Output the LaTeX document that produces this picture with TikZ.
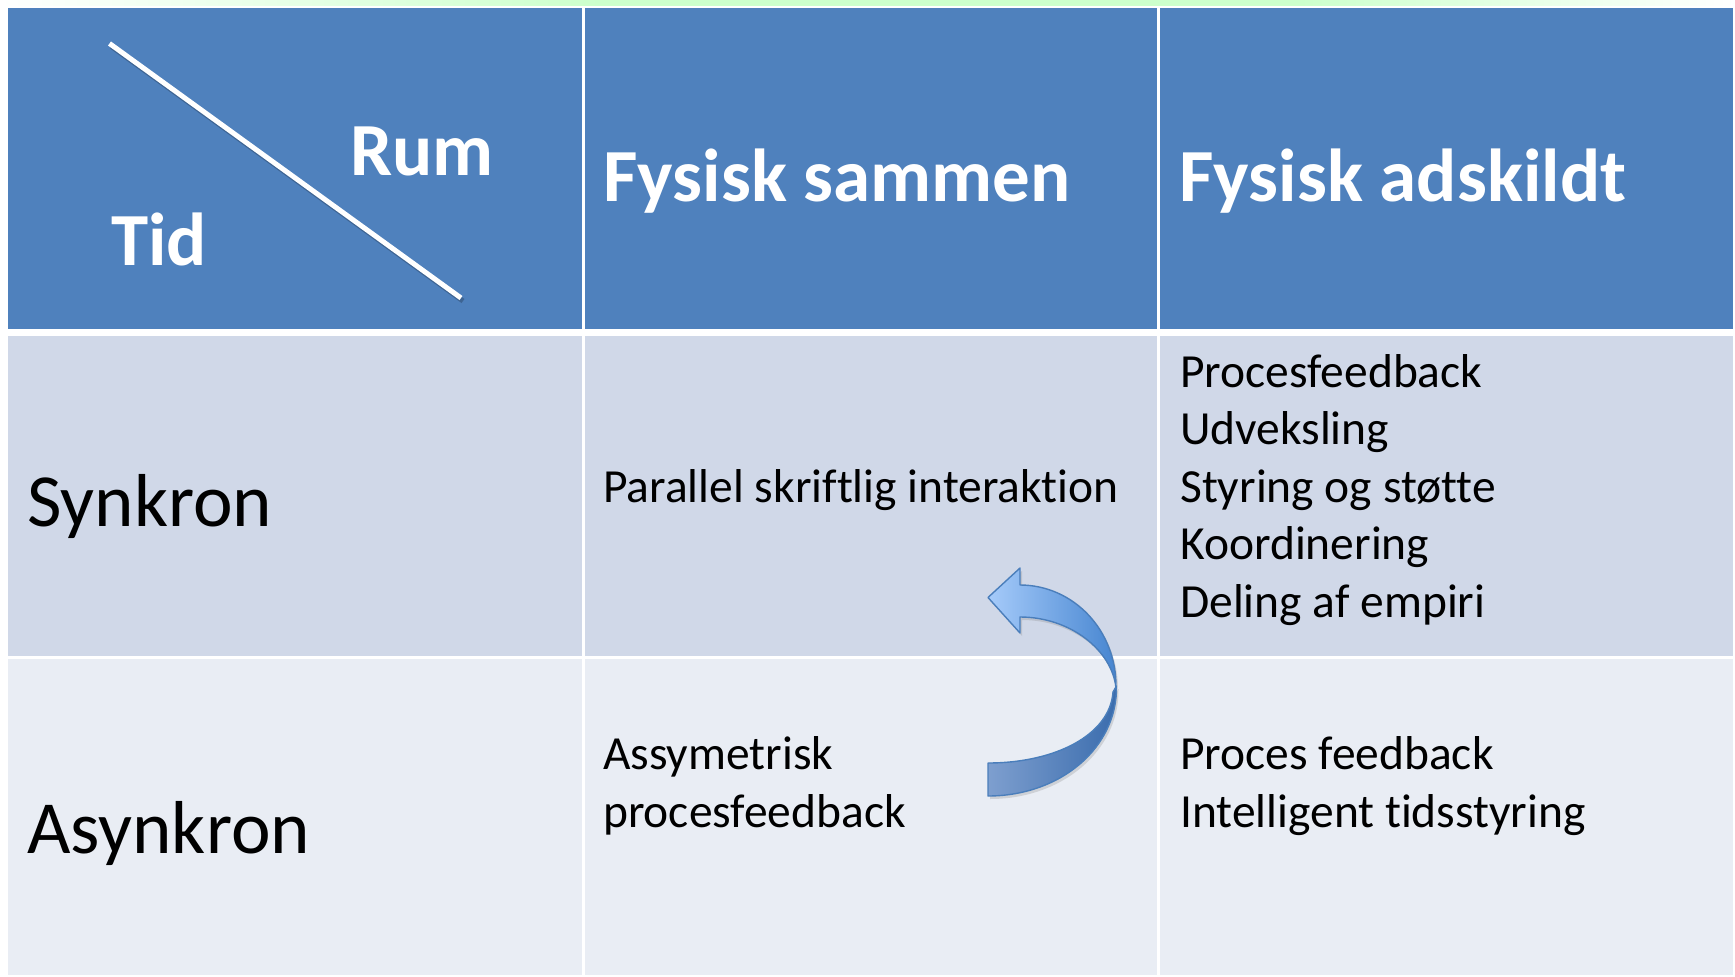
\documentclass[tikz,border=0pt]{standalone}
\usepackage{fontspec}
\setmainfont{Carlito}[Ligatures=NoCommon]
\usetikzlibrary{shadows}
\definecolor{hdr}{HTML}{4F81BD}
\definecolor{rowa}{HTML}{D0D8E8}
\definecolor{rowb}{HTML}{E9EDF4}
\definecolor{topgreen}{HTML}{CCFFCC}
\definecolor{arrline}{HTML}{4A7EBB}
\definecolor{arrlight}{HTML}{A6CBFA}
\definecolor{arrmid}{HTML}{4685D0}
\definecolor{arrdarkl}{HTML}{7E9FCF}
\definecolor{arrdarkr}{HTML}{3A6CAD}
\begin{document}
\begin{tikzpicture}[x=1pt,y=-1pt,
  hdrtext/.style={anchor=base west, inner sep=0pt, text=white, font=\fontsize{75}{90}\selectfont\bfseries},
  rowtext/.style={anchor=base west, inner sep=0pt, text=black, font=\fontsize{75}{90}\selectfont},
  celltext/.style={anchor=base west, inner sep=0pt, text=black, font=\fontsize{47.5}{57}\selectfont},
  divider/.style={white, line width=3pt},
  arrowband/.style={draw=arrline, line width=1.4pt, line join=round},
]
\useasboundingbox (0,0) rectangle (1735,977);
\fill[white] (0,0) rectangle (1735,977);
% top strip
\shade[left color=white, right color=topgreen] (0,0) rectangle (600,5.5);
\fill[topgreen] (599.5,0) rectangle (1300.5,5.5);
\shade[left color=topgreen, right color=white] (1300,0) rectangle (1735,5.5);
% table cells
\fill[hdr] (8,8) rectangle (1733,328.5);
\fill[rowa] (8,335.5) rectangle (1733,656);
\fill[rowb] (8,658.5) rectangle (1733,975);
\coordinate (c1t) at (583,8);
\coordinate (c1b) at (583,975);
\coordinate (c2t) at (1158.5,8);
\coordinate (c2b) at (1158.5,975);
\draw[divider] (c1t) -- (c1b);
\draw[divider] (c2t) -- (c2b);
% diagonal
\coordinate (d1) at (109.5,43.5);
\coordinate (d2) at (461,298);
\draw[black, opacity=0.22, line width=5pt] ([shift={(2,3)}]d1) -- ([shift={(2,3)}]d2);
\draw[white, line width=5pt] (d1) -- (d2);
% header texts
\node[hdrtext] (rum) at (350,175) {Rum};
\node[hdrtext] (tid) at (111,265) {Tid};
\node[hdrtext] (fs) at (603,201) {Fysisk sammen};
\node[hdrtext] (fa) at (1179,201) {Fysisk adskildt};
% row labels
\node[rowtext] (syn) at (27,526.5) {Synkron};
\node[rowtext] (asyn) at (27,853) {Asynkron};
% cells
\node[celltext] (par) at (603,502) {Parallel skriftlig interakt\kern0pt ion};
\node[celltext] (pf1) at (1180,387) {Procesfeedback};
\node[celltext] (udv) at (1180,444.5) {Udveksling};
\node[celltext] (sty) at (1180,502) {Styring og støtte};
\node[celltext] (koo) at (1180,559.5) {Koordinering};
\node[celltext] (del) at (1180,617) {Deling af empiri};
\node[celltext] (ass) at (603,769.5) {Assymetrisk};
\node[celltext] (pfb) at (603,827) {procesfeedback};
\node[celltext] (pf2) at (1180,769.5) {Proces feedback};
\node[celltext] (its) at (1180,827) {Intelligent t\kern0pt idsstyring};
% curved arrow
\path[arrowband, left color=arrdarkl, right color=arrdarkr,
      drop shadow={opacity=0.25, shadow xshift=2pt, shadow yshift=-3pt}]
  (1116.5,686) .. controls (1117.5,748) and (1060,796) .. (988,796)
  -- (988,763) .. controls (1055,763) and (1110,735) .. (1113,692) -- cycle;
\path[arrowband, left color=arrlight, right color=arrmid,
      drop shadow={opacity=0.25, shadow xshift=2pt, shadow yshift=-3pt}]
  (1020,585) -- (1020,568) -- (988,597.5) -- (1020,633) -- (1020,617)
  .. controls (1070,617) and (1112,650) .. (1116,688)
  .. controls (1117,630) and (1073,585) .. (1020,585) -- cycle;
\end{tikzpicture}
\end{document}
